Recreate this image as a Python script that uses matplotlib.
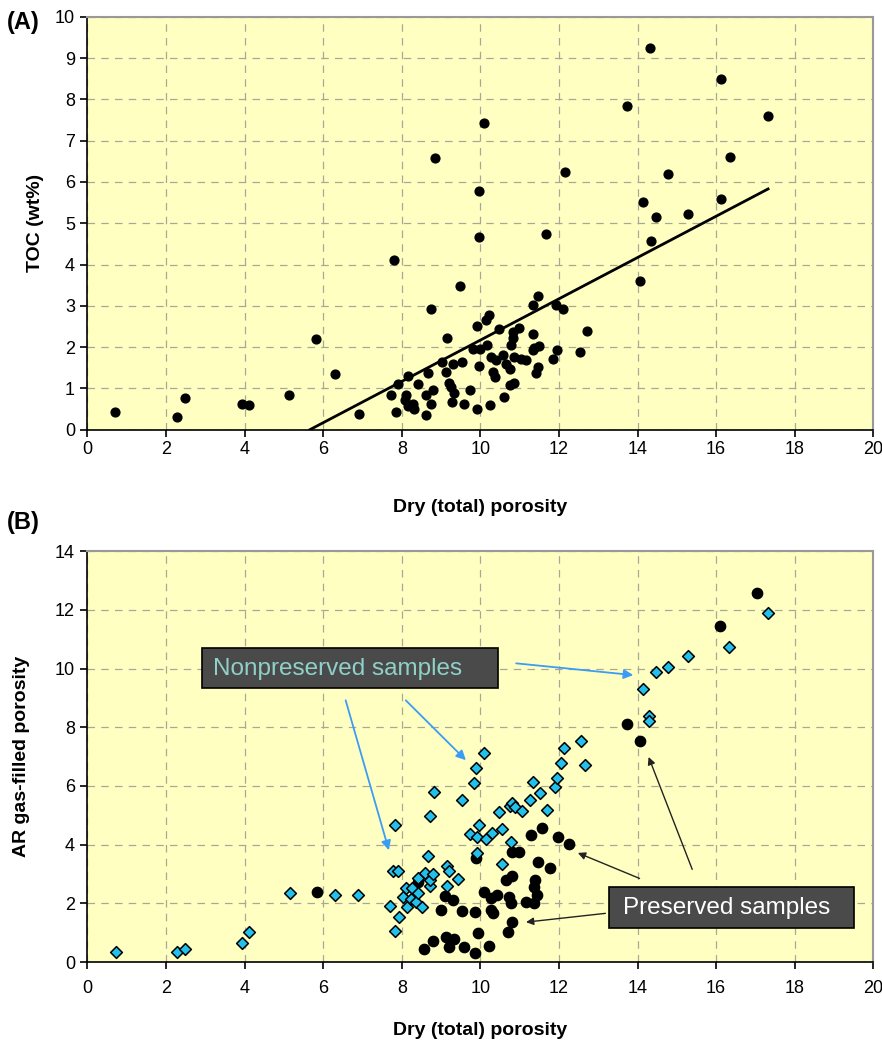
import matplotlib
matplotlib.use("Agg")
import matplotlib.pyplot as plt
from matplotlib.patches import Rectangle
import numpy as np

plt.rcParams['font.family'] = ['Liberation Sans', 'DejaVu Sans']

# ---- panel A: TOC vs dry porosity ----
toc_por = [0.70, 2.28, 2.47, 3.93, 4.12, 5.12, 5.82, 6.30, 6.90, 7.73, 7.80, 7.85, 7.90, 8.07,
           8.11, 8.15, 8.15, 8.28, 8.32, 8.40, 8.62, 8.62, 8.66, 8.74, 8.75, 8.79, 8.84, 9.02,
           9.13, 9.14, 9.21, 9.25, 9.27, 9.30, 9.34, 9.49, 9.53, 9.57, 9.74, 9.80, 9.91, 9.92,
           9.96, 9.96, 9.96, 10.00, 10.08, 10.14, 10.18, 10.23, 10.25, 10.27, 10.31, 10.36, 10.40,
           10.47, 10.57, 10.61, 10.65, 10.74, 10.74, 10.78, 10.82, 10.82, 10.86, 10.86, 10.99,
           11.04, 11.16, 11.33, 11.33, 11.33, 11.37, 11.42, 11.46, 11.46, 11.50, 11.66, 11.84,
           11.93, 11.94, 12.11, 12.14, 12.54, 12.71, 13.74, 14.07, 14.13, 14.31, 14.35, 14.48,
           14.78, 15.28, 16.11, 16.11, 16.36, 17.32]
toc = [0.42, 0.30, 0.76, 0.63, 0.59, 0.84, 2.19, 1.34, 0.39, 0.84, 4.12, 0.43, 1.10, 0.71,
       0.84, 1.30, 0.57, 0.63, 0.51, 1.10, 0.84, 0.35, 1.38, 0.63, 2.93, 0.97, 6.57, 1.64,
       1.40, 2.23, 1.13, 1.04, 0.66, 1.59, 0.88, 3.47, 1.63, 0.63, 0.96, 1.96, 2.51, 0.51,
       5.79, 4.66, 1.54, 1.96, 7.43, 2.65, 2.06, 2.77, 0.59, 1.76, 1.40, 1.28, 1.68,
       2.43, 1.80, 0.79, 1.60, 1.48, 1.08, 2.06, 2.37, 2.23, 1.76, 1.12, 2.47,
       1.72, 1.68, 3.01, 2.31, 1.92, 1.97, 1.38, 3.23, 1.52, 2.02, 4.74, 1.70,
       3.01, 1.94, 2.93, 6.24, 1.89, 2.39, 7.84, 3.59, 5.51, 9.24, 4.58, 5.14,
       6.20, 5.23, 8.50, 5.59, 6.61, 7.60]

# trend line y = slope * x + intercept over the fitted range
trend_slope = 0.50
trend_intercept = -2.83
trend_range = [5.66, 17.32]

# ---- panel B: AR gas-filled porosity ----
nonpres_por = [0.72, 2.29, 2.49, 3.92, 4.10, 5.15, 6.29, 6.89, 7.69, 7.77, 7.82, 7.82, 7.90,
               7.93, 8.04, 8.10, 8.12, 8.23, 8.27, 8.35, 8.40, 8.40, 8.52, 8.58, 8.67, 8.71,
               8.72, 8.72, 8.79, 8.81, 9.16, 9.16, 9.20, 9.42, 9.54, 9.74, 9.84, 9.90, 9.91,
               9.91, 9.97, 10.09, 10.14, 10.29, 10.48, 10.55, 10.55, 10.75, 10.78, 10.81, 10.87,
               11.05, 11.26, 11.34, 11.52, 11.70, 11.91, 11.95, 12.06, 12.12, 12.55, 12.67,
               14.14, 14.29, 14.29, 14.48, 14.78, 15.29, 16.32, 17.31]
nonpres_gas = [0.35, 0.35, 0.43, 0.64, 1.03, 2.36, 2.29, 2.29, 1.90, 3.10, 4.66, 1.06, 3.10,
               1.54, 2.22, 2.51, 1.88, 2.14, 2.54, 2.05, 2.34, 2.88, 1.88, 3.02, 3.61, 2.59,
               2.79, 4.98, 3.00, 5.80, 3.28, 2.59, 3.10, 2.82, 5.52, 4.38, 6.09, 6.60, 3.70,
               4.25, 4.67, 7.13, 4.18, 4.39, 5.10, 4.55, 3.34, 5.31, 4.08, 5.43, 5.27,
               5.15, 5.52, 6.14, 5.75, 5.18, 5.95, 6.26, 6.79, 7.30, 7.52, 6.71,
               9.29, 8.39, 8.22, 9.87, 10.04, 10.43, 10.72, 11.88]

pres_por = [5.83, 8.40, 8.56, 8.79, 9.00, 9.09, 9.12, 9.21, 9.31, 9.34, 9.52, 9.57, 9.86, 9.86,
            9.90, 9.94, 10.08, 10.22, 10.26, 10.31, 10.27, 10.43, 10.64, 10.69, 10.73, 10.78,
            10.80, 10.81, 10.81, 10.98, 11.16, 11.29, 11.36, 11.37, 11.40, 11.44, 11.46, 11.57,
            11.78, 11.98, 12.26, 13.73, 14.06, 16.09, 17.03]
pres_gas = [2.39, 2.73, 0.44, 0.73, 1.77, 2.26, 0.84, 0.52, 2.11, 0.77, 1.75, 0.52, 1.69, 0.32,
            3.53, 1.00, 2.39, 0.54, 2.17, 1.66, 1.77, 2.28, 2.79, 1.03, 2.22, 2.00,
            1.37, 2.93, 3.76, 3.76, 2.05, 4.33, 2.56, 2.00, 2.79, 2.28, 3.40, 4.57,
            3.19, 4.25, 4.04, 8.11, 7.54, 11.46, 12.58]

# annotation arrows (tail -> head) in data units of panel B
blue_arrows = [((6.57, 8.92), (7.67, 3.81)),
               ((8.10, 8.92), (9.63, 6.88)),
               ((10.91, 10.18), (13.89, 9.78))]
black_arrows = [((13.18, 1.66), (11.16, 1.36)),
                ((14.05, 2.85), (12.48, 3.72)),
                ((15.39, 3.16), (14.28, 6.99))]

bg = '#ffffc2'
grid_col = '#a8a896'


def style_axes(ax, ymax, ystep, xpad, lpad):
    ax.set_facecolor(bg)
    ax.set_xlim(0, 20)
    ax.set_ylim(0, ymax)
    ax.set_xticks(np.arange(0, 21, 2))
    ax.set_yticks(np.arange(0, ymax + 0.1, ystep))
    ax.grid(True, color=grid_col, linestyle=(0, (6, 5)), linewidth=0.9)
    ax.set_axisbelow(True)
    for s in ['top', 'right']:
        ax.spines[s].set_color('#999999')
        ax.spines[s].set_linewidth(1.5)
    for s in ['left', 'bottom']:
        ax.spines[s].set_color('black')
        ax.spines[s].set_linewidth(1.2)
    ax.tick_params(direction='out', length=5, width=1.2, labelsize=13)
    ax.tick_params(axis='x', pad=xpad)
    ax.tick_params(axis='y', pad=4)
    ax.set_xlabel('Dry (total) porosity', fontsize=14, fontweight='bold', labelpad=lpad)


fig = plt.figure(figsize=(8.82, 10.48), dpi=100)

# panel A
axA = fig.add_axes([0.0992, 0.590, 0.891, 0.394])
style_axes(axA, 10, 1, 3, 30)
axA.scatter(toc_por, toc, s=40, color='black', zorder=3)
xl = np.array(trend_range)
axA.plot(xl, trend_slope * xl + trend_intercept, color='black', lw=2, zorder=4)
axA.set_ylabel('TOC (wt%)', fontsize=14, fontweight='bold', labelpad=8)
fig.text(0.008, 0.972, '(A)', fontsize=17, fontweight='bold')

# panel B
axB = fig.add_axes([0.0992, 0.082, 0.891, 0.392])
style_axes(axB, 14, 2, 8, 18)
axB.scatter(pres_por, pres_gas, s=55, color='black', zorder=3)
axB.scatter(nonpres_por, nonpres_gas, s=36, marker='D', color='#22c0ea',
            edgecolor='black', linewidth=1.1, zorder=4)
axB.set_ylabel('AR gas-filled porosity', fontsize=14, fontweight='bold', labelpad=18)
fig.text(0.008, 0.495, '(B)', fontsize=17, fontweight='bold')

for tail, head in blue_arrows:
    axB.annotate('', xy=head, xytext=tail,
                 arrowprops=dict(arrowstyle='-|>', color='#3b9cf5', lw=1.3,
                                 mutation_scale=14, shrinkA=0, shrinkB=0), zorder=5)
for tail, head in black_arrows:
    axB.annotate('', xy=head, xytext=tail,
                 arrowprops=dict(arrowstyle='-|>', color='#222222', lw=1.0,
                                 mutation_scale=11, shrinkA=0, shrinkB=0), zorder=5)

# label boxes
axB.add_patch(Rectangle((2.92, 9.33), 7.53, 1.36, facecolor='#4a4a4a',
                        edgecolor='black', lw=1.2, zorder=6))
axB.text(3.2, 10.0, 'Nonpreserved samples', fontsize=17.5, color='#8fd0c8',
         va='center', ha='left', zorder=7)
axB.add_patch(Rectangle((13.28, 1.16), 6.22, 1.39, facecolor='#4a4a4a',
                        edgecolor='black', lw=1.2, zorder=6))
axB.text(13.62, 1.85, 'Preserved samples', fontsize=17.5, color='white',
         va='center', ha='left', zorder=7)

fig.savefig('out.png', dpi=100)
